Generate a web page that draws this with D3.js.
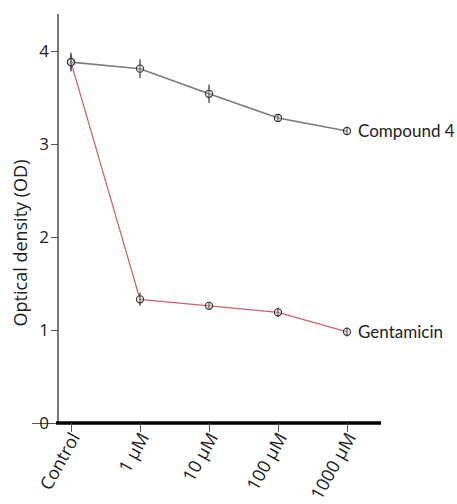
<!DOCTYPE html>
<html>
<head>
<meta charset="utf-8">
<script src="https://cdn.jsdelivr.net/npm/d3@7"></script>
<style>
  html, body { margin: 0; padding: 0; background: #fff; }
  svg { display: block; }
</style>
</head>
<body>
<svg id="chart" width="457" height="504"></svg>
<script>
// Concentrations along the x axis
const categories = ["Control", "1 \u03bcM", "10 \u03bcM", "100 \u03bcM", "1000 \u03bcM"];

// Mean optical density per concentration
const compound4 = [3.88, 3.81, 3.54, 3.28, 3.14];
const gentamicin = [3.88, 1.33, 1.26, 1.19, 0.98];

// Error bar half-widths (OD)
const compound4Err = [0.10, 0.10, 0.10, 0.04, 0.03];
const gentamicinErr = [0.08, 0.07, 0.03, 0.05, 0.05];

const yTicks = [0, 1, 2, 3, 4];
const seriesNames = ["Compound 4", "Gentamicin"];

const svg = d3.select("#chart");
const xAxisY = 423;
const yAxisX = 58;
const font = "'Open Sans', sans-serif";

const x = d3.scalePoint()
  .domain(categories)
  .range([71, 347]);

const y = d3.scaleLinear()
  .domain([0, 4])
  .range([xAxisY, 51]);

const series = [
  { name: seriesNames[0], values: compound4, err: compound4Err, color: "#7b7b7b", width: 1.6 },
  { name: seriesNames[1], values: gentamicin, err: gentamicinErr, color: "#d0626c", width: 1.3 }
];

// Y axis: gray line with short ticks on the left
svg.append("line")
  .attr("x1", yAxisX).attr("x2", yAxisX)
  .attr("y1", 14).attr("y2", xAxisY)
  .attr("stroke", "#7a7a7a").attr("stroke-width", 2);

const yAxis = d3.axisLeft(y).tickValues(yTicks).tickFormat(d3.format("d")).tickSize(7).tickSizeOuter(0);
const yg = svg.append("g").attr("transform", `translate(${yAxisX},0)`).call(yAxis);
yg.select(".domain").remove();
yg.attr("font-size", null).attr("font-family", null);
yg.selectAll(".tick line").attr("stroke", "#555").attr("stroke-width", 1);
yg.selectAll(".tick text")
  .attr("x", -9)
  .style("font-family", font)
  .style("font-size", "17px")
  .attr("fill", "#222");
// the zero tick line runs through its label
yg.selectAll(".tick").filter(d => d === 0).select("line").attr("x2", -26);

// X axis: heavy black baseline with small downward ticks
svg.append("line")
  .attr("x1", 56).attr("x2", 381)
  .attr("y1", xAxisY).attr("y2", xAxisY)
  .attr("stroke", "#000").attr("stroke-width", 3.5);

const xAxis = d3.axisBottom(x).tickSize(9).tickSizeOuter(0);
const xg = svg.append("g").attr("transform", `translate(0,${xAxisY})`).call(xAxis);
xg.select(".domain").remove();
xg.attr("font-size", null).attr("font-family", null);
xg.selectAll(".tick line").attr("stroke", "#555").attr("stroke-width", 1);
xg.selectAll(".tick text")
  .style("font-family", font)
  .style("font-size", "18px")
  .attr("fill", "#222")
  .attr("text-anchor", "end")
  .attr("dy", null)
  .attr("x", 0).attr("y", 0)
  .attr("transform", "translate(9,14) rotate(-61)");

// Y axis title
svg.append("text")
  .attr("transform", `translate(27,${243}) rotate(-90)`)
  .attr("text-anchor", "middle")
  .style("font-family", font)
  .style("font-size", "18px")
  .attr("fill", "#222")
  .text("Optical density (OD)");

const line = d3.line()
  .x((d, i) => x(categories[i]))
  .y(d => y(d));

series.forEach(s => {
  const g = svg.append("g");
  g.append("path")
    .datum(s.values)
    .attr("d", line)
    .attr("fill", "none")
    .attr("stroke", s.color)
    .attr("stroke-width", s.width);

  const pts = g.selectAll("g.pt")
    .data(s.values.map((v, i) => ({ v, e: s.err[i], c: categories[i] })))
    .join("g").attr("class", "pt");

  pts.append("line")
    .attr("x1", d => x(d.c)).attr("x2", d => x(d.c))
    .attr("y1", d => y(d.v + d.e)).attr("y2", d => y(d.v - d.e))
    .attr("stroke", "#333").attr("stroke-width", 1.2);

  pts.append("circle")
    .attr("cx", d => x(d.c)).attr("cy", d => y(d.v))
    .attr("r", 3.6)
    .attr("fill", "#c8c8c8").attr("fill-opacity", 0.35)
    .attr("stroke", "#333").attr("stroke-width", 1.1);

  const last = s.values.length - 1;
  g.append("text")
    .attr("x", x(categories[last]) + 11)
    .attr("y", y(s.values[last]))
    .attr("dy", "0.35em")
    .style("font-family", "Lato, 'Open Sans', sans-serif")
    .style("font-size", "17px")
    .attr("fill", "#222")
    .text(s.name);
});
</script>
</body>
</html>
